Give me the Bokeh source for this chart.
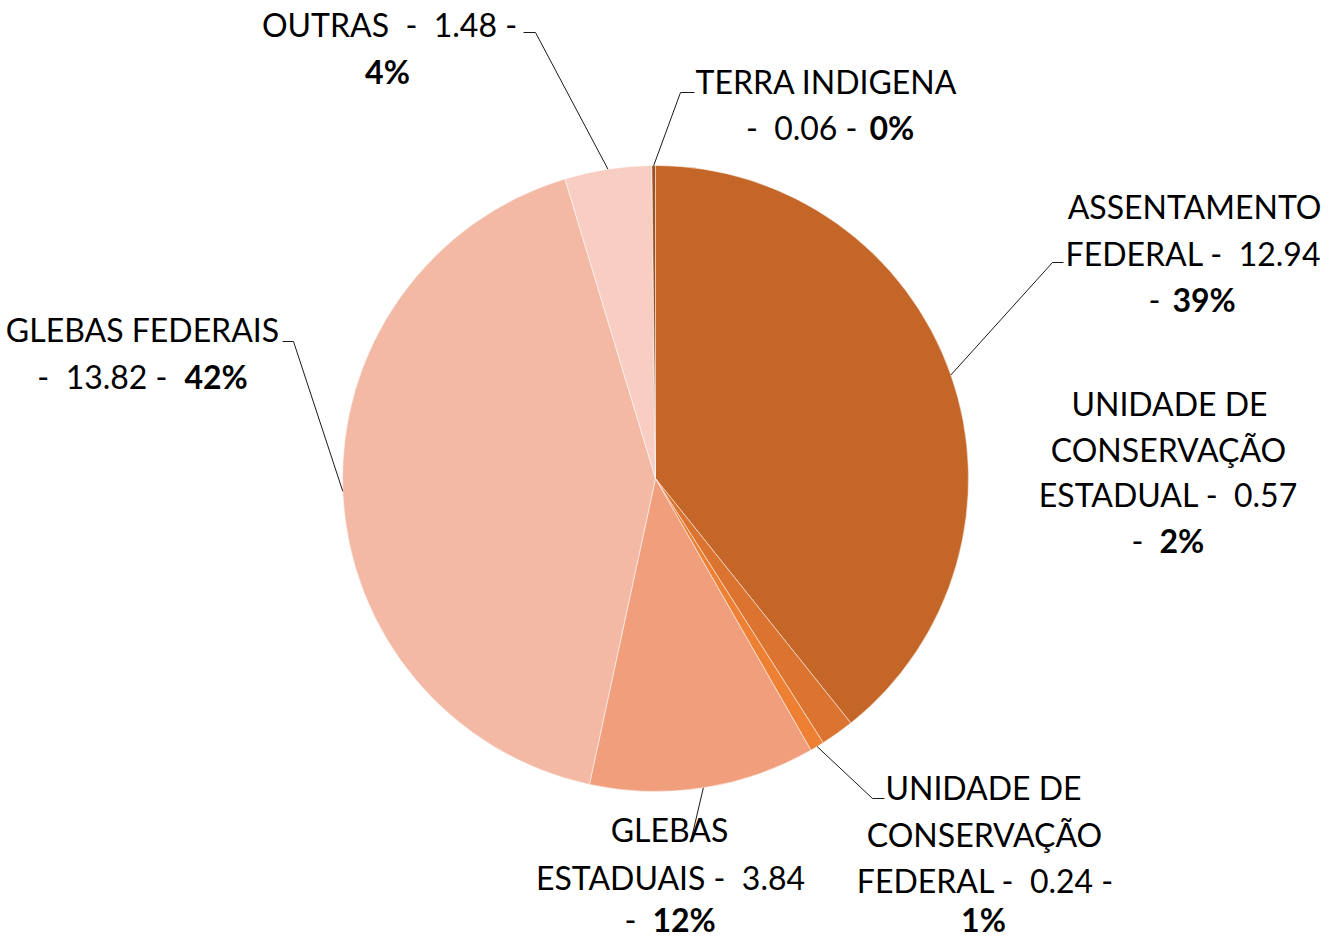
import math
from bokeh.plotting import figure
from bokeh.models import Range1d, ColumnDataSource
from bokeh.core.properties import value
from bokeh.embed import file_html
from bokeh.resources import INLINE

# ---- data (clockwise from 12 o'clock) ----
categories = ["ASSENTAMENTO FEDERAL", "UNIDADE DE CONSERVAÇÃO ESTADUAL",
              "UNIDADE DE CONSERVAÇÃO FEDERAL", "GLEBAS ESTADUAIS",
              "GLEBAS FEDERAIS", "OUTRAS", "TERRA INDIGENA"]
values = [12.94, 0.57, 0.24, 3.84, 13.82, 1.48, 0.06]
colors = ["#C46628", "#DB7431", "#EE8034", "#F09E7C", "#F3B9A4", "#F8CEC2", "#A0501E"]

W, H = 1329, 938
FONT = "Lato"
FS = "32px"
SP2 = " \u00a0"  # double space that survives SVG whitespace collapsing
TEXT_DY = -11     # rendering correction for text anchors

p = figure(width=W, height=H, output_backend="svg", toolbar_location=None,
           x_range=Range1d(0, W), y_range=Range1d(0, H),
           min_border=0, border_fill_color="white", background_fill_color="white")
p.axis.visible = False
p.grid.visible = False
p.outline_line_color = None

def sy(y):  # picture y -> data y
    return H - y

# ---- pie ----
cx, cy, R = 655, sy(478), 313
total = sum(values)
starts, ends, mids = [], [], []
acc = 0.0
for v in values:
    f0 = acc / total
    acc += v
    f1 = acc / total
    starts.append(math.pi / 2 - f0 * 2 * math.pi)
    ends.append(math.pi / 2 - f1 * 2 * math.pi)
    mids.append(math.pi / 2 - (f0 + f1) / 2 * 2 * math.pi)
pct = [round(v / total * 100) for v in values]

src = ColumnDataSource(dict(start=starts, end=ends, color=colors))
p.wedge(x=cx, y=cy, radius=R, start_angle="start", end_angle="end",
        direction="clock", fill_color="color", line_color="white",
        line_width=0.5, source=src)

# ---- leader lines: from slice mid-arc to elbow then short horizontal ----
leader = {
    0: [(1052, 262), (1063, 262)],
    2: [(872, 798), (884, 798)],
    3: [(690, 842)],
    4: [(293, 341), (282, 341)],
    5: [(535, 32), (523, 32)],
    6: [(680, 92), (694, 92)],
}
xs, ys = [], []
for i, pts in leader.items():
    ax = cx + R * math.cos(mids[i])
    ay = cy + R * math.sin(mids[i])
    xs.append([ax] + [q[0] for q in pts])
    ys.append([ay] + [sy(q[1]) for q in pts])
p.multi_line(xs=xs, ys=ys, line_color="#1a1a1a", line_width=1)

# ---- labels ----
def v(i):
    return f"{values[i]:.2f}"

def pc(i):
    return f"{pct[i]}%"

# (text, picture x, picture baseline y, align, bold)
lines = [
    (f"OUTRAS{SP2}-{SP2}{v(5)} -", 389, 35, "center", False),
    (pc(5), 387, 82, "center", True),
    ("TERRA INDIGENA", 826, 92, "center", False),
    (f"-{SP2}{v(6)} -", 857, 138, "right", False),
    (pc(6), 869, 138, "left", True),
    ("ASSENTAMENTO", 1194, 217, "center", False),
    (f"FEDERAL -{SP2}{v(0)}", 1193, 264, "center", False),
    ("-", 1154, 310, "center", False),
    (pc(0), 1172, 310, "left", True),
    ("UNIDADE DE", 1169, 414, "center", False),
    ("CONSERVAÇÃO", 1168, 460, "center", False),
    (f"ESTADUAL -{SP2}{v(1)}", 1168, 505, "center", False),
    ("-", 1137, 551, "center", False),
    (pc(1), 1159, 551, "left", True),
    ("UNIDADE DE", 983, 798, "center", False),
    ("CONSERVAÇÃO", 984, 845, "center", False),
    (f"FEDERAL -{SP2}{v(2)} -", 985, 891, "center", False),
    (pc(2), 983, 930, "center", True),
    ("GLEBAS", 669, 840, "center", False),
    (f"ESTADUAIS -{SP2}{v(3)}", 670, 888, "center", False),
    ("-", 630, 930, "center", False),
    (pc(3), 652, 930, "left", True),
    ("GLEBAS FEDERAIS", 142, 340, "center", False),
    (f"-{SP2}{v(4)} -", 167, 387, "right", False),
    (pc(4), 184, 387, "left", True),
]

for bold in (False, True):
    for align in ("left", "center", "right"):
        sel = [l for l in lines if l[4] == bold and l[3] == align]
        if not sel:
            continue
        s = ColumnDataSource(dict(x=[l[1] for l in sel],
                                  y=[sy(l[2] + TEXT_DY) for l in sel],
                                  t=[l[0] for l in sel]))
        p.text(x="x", y="y", text="t", source=s, text_font=value(FONT),
               text_font_size=FS, text_align=align, text_baseline="alphabetic",
               text_color="black", text_font_style="bold" if bold else "normal")

open("out.html", "w").write(file_html(p, INLINE))
